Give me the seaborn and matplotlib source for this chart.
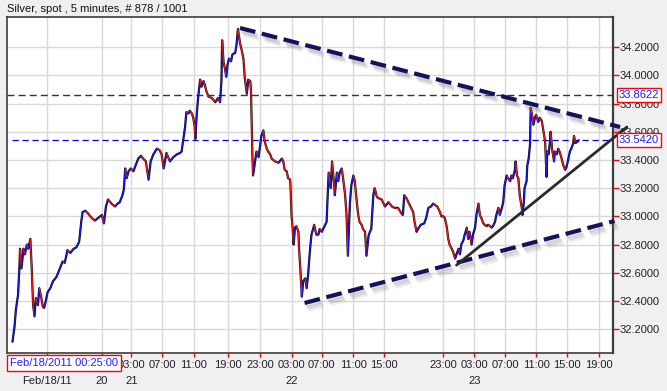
import numpy as np
import pandas as pd
import matplotlib
matplotlib.use("Agg")
import matplotlib.pyplot as plt
import seaborn as sns
from matplotlib.collections import LineCollection
from matplotlib import patheffects as pe
from matplotlib.transforms import blended_transform_factory

sns.set_style("white")
plt.rcParams['font.family'] = ['Liberation Sans', 'DejaVu Sans']

title = "Silver, spot , 5 minutes, # 878 / 1001"
cursor_label = "Feb/18/2011 00:25:00"

# price path (bar index, price)
bars = [8, 11, 13, 16, 18, 19, 21, 24, 26, 29, 31, 34, 36, 38, 40, 42, 45, 47, 50, 52,
        54, 56, 59, 63, 67, 72, 77, 81, 84, 88, 92, 97, 101, 105, 108, 110, 114, 118, 123, 128,
        133, 138, 141, 144, 147, 152, 157, 161, 164, 168, 170, 172, 174, 177, 180, 184, 187, 191, 195, 198,
        202, 206, 209, 213, 218, 222, 225, 228,
        232, 237, 242, 247, 252, 254, 257, 259, 261, 264, 266, 269, 271, 273, 274, 276, 278, 281, 283, 286,
        288, 290, 293, 298, 303, 307, 310, 312, 313, 315, 317, 319, 321, 323, 326, 328, 332, 334, 336, 339,
        341, 344, 346, 349, 351, 354, 355, 357, 358, 361, 363, 366, 368, 370, 373, 375, 378, 380, 383, 385,
        390, 395, 400, 402, 404, 407, 409, 412, 413, 414, 416, 417, 419, 421, 424, 425, 427, 429, 431, 434,
        436, 438, 441, 443, 447,
        450, 453, 455, 458, 460, 463, 465, 467, 468, 471, 473, 476, 477, 480, 482, 484, 487, 489, 492, 494,
        496, 499, 501, 504, 506, 509, 511, 513, 516, 518, 521, 523, 526, 528, 530, 533, 535, 538, 540, 545,
        550, 555, 560, 564, 569, 574, 576, 578, 581, 586, 591, 593, 596, 598, 602, 607, 610, 613, 617, 620,
        623, 626, 630, 632, 635, 637, 640, 642, 644, 647, 649, 652, 654, 657, 659, 661, 664,
        666, 669, 671, 673, 676, 678, 681, 683, 686, 688, 690, 693, 695, 698, 700, 703, 705, 707, 710, 712,
        715, 717, 720, 722, 724, 727, 729, 732, 734, 736, 739, 740, 742, 744, 746, 749, 750, 752, 753, 756,
        757, 759, 761, 762, 764, 766, 768, 770, 773, 775, 778, 780, 783, 784, 785, 786, 788, 790, 791, 793,
        796, 797, 800, 802, 804, 807, 809, 812, 814, 816, 819, 821, 824, 825, 827, 830, 832]
prices = [32.11, 32.22, 32.34, 32.44, 32.63, 32.77, 32.63, 32.77, 32.73, 32.80, 32.77, 32.84, 32.63, 32.37, 32.29, 32.42, 32.37, 32.49, 32.42, 32.36,
          32.35, 32.39, 32.46, 32.49, 32.54, 32.57, 32.63, 32.68, 32.67, 32.76, 32.74, 32.77, 32.78, 32.82, 32.96, 33.03, 33.04, 33.02, 32.99, 32.97,
          32.99, 33.01, 32.95, 33.07, 33.12, 33.09, 33.07, 33.09, 33.10, 33.15, 33.19, 33.34, 33.27, 33.32, 33.34, 33.32, 33.36, 33.41, 33.43, 33.41,
          33.39, 33.26, 33.39, 33.44, 33.48, 33.47, 33.44, 33.34,
          33.45, 33.39, 33.42, 33.44, 33.45, 33.46, 33.56, 33.63, 33.74, 33.73, 33.75, 33.73, 33.70, 33.64, 33.55, 33.72, 33.84, 33.97, 33.92, 33.96,
          33.93, 33.89, 33.85, 33.84, 33.81, 33.84, 33.81, 33.96, 34.25, 34.10, 34.05, 33.99, 34.08, 34.12, 34.10, 34.15, 34.16, 34.22, 34.33, 34.23,
          34.19, 34.12, 33.98, 33.87, 33.97, 33.96, 33.89, 33.44, 33.29, 33.39, 33.46, 33.42, 33.49, 33.57, 33.61, 33.53, 33.48, 33.46, 33.44, 33.41,
          33.39, 33.38, 33.41, 33.39, 33.33, 33.32, 33.27, 33.26, 33.15, 33.01, 32.89, 32.80, 32.92, 32.93, 32.89, 32.77, 32.61, 32.43, 32.54, 32.56,
          32.49, 32.58, 32.77, 32.87, 32.94,
          32.87, 32.87, 32.91, 32.89, 32.91, 32.94, 32.96, 33.20, 33.31, 33.20, 33.39, 33.22, 33.15, 33.31, 33.25, 33.31, 33.34, 33.27, 33.15, 33.01,
          32.72, 33.10, 33.22, 33.29, 33.25, 33.10, 33.01, 32.96, 32.94, 32.91, 32.89, 32.72, 32.86, 32.89, 32.91, 33.15, 33.20, 33.14, 33.13, 33.12,
          33.07, 33.10, 33.07, 33.06, 33.06, 33.02, 33.01, 33.15, 33.13, 33.08, 33.03, 32.96, 32.89, 32.91, 32.94, 32.95, 32.99, 33.06, 33.07, 33.09,
          33.08, 33.07, 33.03, 33.00, 33.00, 32.99, 32.92, 32.84, 32.80, 32.77, 32.75, 32.70, 32.73, 32.77, 32.73, 32.80, 32.83,
          32.87, 32.92, 32.84, 32.89, 32.80, 32.87, 32.92, 33.01, 33.09, 33.01, 32.99, 32.95, 32.94, 32.93, 32.94, 32.93, 32.92, 32.93, 32.96, 33.01,
          33.06, 33.01, 33.06, 33.10, 33.22, 33.29, 33.27, 33.25, 33.29, 33.27, 33.33, 33.39, 33.29, 33.27, 33.15, 33.06, 33.01, 33.10, 33.20, 33.25,
          33.36, 33.41, 33.51, 33.77, 33.72, 33.65, 33.70, 33.72, 33.67, 33.70, 33.68, 33.62, 33.53, 33.41, 33.28, 33.46, 33.44, 33.53, 33.60, 33.48,
          33.39, 33.46, 33.44, 33.48, 33.46, 33.41, 33.37, 33.33, 33.35, 33.39, 33.46, 33.48, 33.52, 33.57, 33.52, 33.53, 33.54]

ref_black = 33.8622
ref_blue = 33.5420

y_ticks = [32.2, 32.4, 32.6, 32.8, 33.0, 33.2, 33.4, 33.6, 33.8, 34.0, 34.2]
grid_bars = [58, 138, 181, 226, 272, 322, 368, 414, 458, 504, 548, 635, 680, 725, 770, 815, 861]
time_labels = ["", "", "03:00", "07:00", "11:00", "19:00", "23:00", "03:00", "07:00", "11:00",
               "15:00", "23:00", "03:00", "07:00", "11:00", "15:00", "19:00"]
date_bars = [58, 138, 181, 414, 680]
date_labels = ["Feb/18/11", "20", "21", "22", "23"]

upper_bars = [339, 892]
upper_prices = [34.337, 33.634]
lower_bars = [433, 884]
lower_prices = [32.385, 32.967]
support_bars = [654, 902]
support_prices = [32.654, 33.634]

fig = plt.figure(figsize=(6.67, 3.91), dpi=100)
fig.patch.set_facecolor('#f0f0f0')
ax = fig.add_axes([7 / 667, 1 - 353 / 391, 605.5 / 667, 336.3 / 391])
ax.set_facecolor('white')

df = pd.DataFrame({'bar': bars, 'price': prices})
sns.lineplot(data=df, x='bar', y='price', ax=ax, color='#111111', lw=1.6, zorder=3,
             sort=False, estimator=None)
pts = np.column_stack([bars, prices])
segs = np.stack([pts[:-1], pts[1:]], axis=1)
cols = ['#1414ff' if b > a else '#ff1414' for a, b in zip(prices[:-1], prices[1:])]
ax.add_collection(LineCollection(segs, colors=cols, linewidths=0.9, zorder=4))

ax.set_xlim(0, 881)
ax.set_ylim(32.030, 34.417)

ax.axhline(ref_black, color='#333333', lw=1.0, ls=(0, (5, 3)), zorder=2)
ax.axhline(ref_blue, color='#0000ee', lw=0.9, ls=(0, (5, 3)), xmin=0.008, zorder=2)

shadow = [pe.SimpleLineShadow(offset=(1, -2), shadow_color='#707070', alpha=0.18),
          pe.SimpleLineShadow(offset=(2, -3.5), shadow_color='#707070', alpha=0.18),
          pe.SimpleLineShadow(offset=(3, -5), shadow_color='#808080', alpha=0.12),
          pe.Normal()]
for bx, py in ((upper_bars, upper_prices), (lower_bars, lower_prices)):
    ax.plot(bx, py, color='#12125e', lw=3.0, ls=(0, (3.8, 1.6)), path_effects=shadow,
            clip_on=False, zorder=6, dash_capstyle='butt')
ax.plot(support_bars, support_prices, color='#2a2a2a', lw=2.0, clip_on=False, zorder=6,
        solid_capstyle='round')

ax.set_xticks(grid_bars)
ax.set_xticklabels(time_labels)
ax.set_yticks(y_ticks)
ax.set_yticklabels([f"{v:.4f}" for v in y_ticks])
ax.yaxis.tick_right()
ax.grid(True, color='#d9d9d9', lw=1.0)
ax.set_axisbelow(True)
ax.set_xlabel('')
ax.set_ylabel('')
ax.tick_params(axis='y', right=True, left=False, length=4, width=1, color='red',
               labelsize=8, pad=1, labelcolor='#222222')
ax.tick_params(axis='x', bottom=True, length=3, width=1, color='red',
               labelsize=8, pad=2, labelcolor='#222222')
for s in ax.spines.values():
    s.set_color('#3c3c3c')
    s.set_linewidth(1.2)
ax.spines['right'].set_linewidth(1.6)

trans = blended_transform_factory(ax.transData, ax.transAxes)
for b, lab in zip(date_bars, date_labels):
    ax.text(b, -0.083, lab, transform=trans, ha='center', va='center', fontsize=8,
            color='#222222', clip_on=False)

for val in (ref_black, ref_blue):
    ax.text(1 + 6.5 / 605.5, val, f"{val:.4f}", transform=ax.get_yaxis_transform(),
            ha='left', va='center', fontsize=8, color='#1a1aff', zorder=10, clip_on=False,
            bbox=dict(boxstyle='square,pad=0.15', facecolor='white', edgecolor='red', lw=1))

fig.text(10 / 667, 1 - 363 / 391, cursor_label, color='#2020ff', fontsize=8,
         ha='left', va='center', zorder=10,
         bbox=dict(boxstyle='square,pad=0.25', facecolor='white', edgecolor='red', lw=1))
fig.text(7 / 667, 1 - 9 / 391, title, fontsize=8, ha='left', va='center', color='#111111')

fig.savefig('out.png', dpi=100, facecolor=fig.get_facecolor())
